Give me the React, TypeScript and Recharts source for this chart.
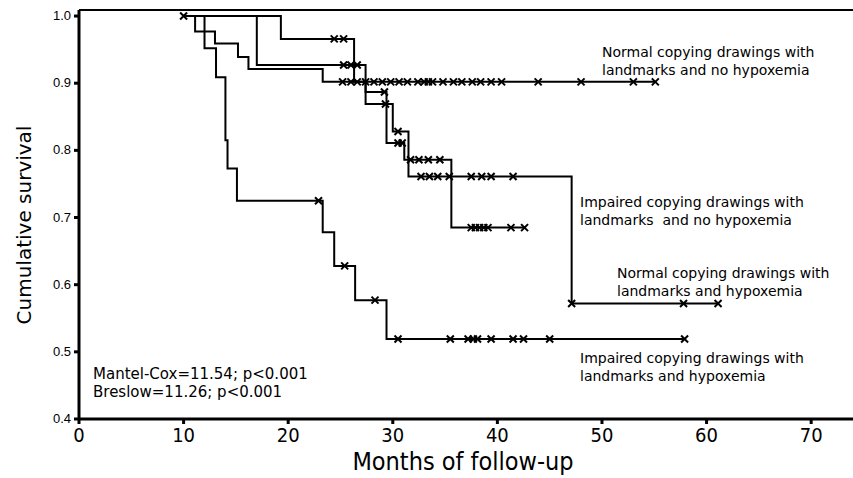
import React from 'react';
import { ComposedChart, Line, Scatter, XAxis, YAxis, ReferenceLine } from 'recharts';

// Kaplan-Meier steps: month of each drop and the survival level after it
const nnTimes = [10, 11.1, 13.0, 15.2, 16.2, 23.3, 55.1];
const nnSurv = [1.0, 0.977, 0.959, 0.939, 0.921, 0.902, 0.902];
const nnCensored = [10, 25.2, 26.0, 26.6, 27.4, 28.2, 29.0, 29.8, 30.6, 31.4, 32.4, 33.0, 33.4, 33.8, 34.8, 35.8, 36.6, 37.6, 38.4, 39.4, 40.4, 43.9, 48.0, 53.0, 55.1];

const inTimes = [10, 19.3, 26.3, 27.4, 29.4, 31.1, 35.6, 42.6];
const inSurv = [1.0, 0.966, 0.902, 0.887, 0.811, 0.786, 0.685, 0.685];
const inCensored = [24.4, 25.3, 29.2, 30.5, 30.9, 31.7, 32.5, 33.4, 34.5, 37.5, 37.9, 38.3, 38.7, 39.1, 41.3, 42.6];

const nhTimes = [10, 17.0, 27.4, 30.0, 31.5, 47.1, 61.1];
const nhSurv = [1.0, 0.927, 0.869, 0.828, 0.761, 0.572, 0.572];
const nhCensored = [25.3, 26.0, 26.6, 29.3, 30.5, 32.7, 33.5, 34.3, 35.4, 37.5, 38.5, 39.4, 41.5, 47.1, 57.8, 61.1];

const ihTimes = [10, 12.0, 13.1, 14.0, 14.2, 15.1, 23.3, 24.4, 26.4, 29.4, 57.9];
const ihSurv = [1.0, 0.952, 0.909, 0.815, 0.773, 0.725, 0.678, 0.628, 0.577, 0.519, 0.519];
const ihCensored = [22.9, 25.4, 28.3, 30.5, 35.5, 37.2, 37.7, 38.1, 39.4, 41.5, 42.5, 45.0, 57.9];

const xTicks = [0, 10, 20, 30, 40, 50, 60, 70];
const yTicks = [0.4, 0.5, 0.6, 0.7, 0.8, 0.9, 1.0];
const yTop = 1.009;

const steps = (times: number[], surv: number[]) => times.map((t, i) => ({ t, s: surv[i] }));

const levelAt = (times: number[], surv: number[], t: number) => {
  let s = surv[0];
  times.forEach((tt, i) => {
    if (tt <= t) s = surv[i];
  });
  return s;
};

const censorPts = (times: number[], surv: number[], cens: number[]) =>
  cens.map((t) => ({ t, s: levelAt(times, surv, t) }));

const curves = [
  { key: 'nn', times: nnTimes, surv: nnSurv, cens: nnCensored },
  { key: 'in', times: inTimes, surv: inSurv, cens: inCensored },
  { key: 'nh', times: nhTimes, surv: nhSurv, cens: nhCensored },
  { key: 'ih', times: ihTimes, surv: ihSurv, cens: ihCensored },
];

const Cross = (props: any) => {
  const { cx, cy } = props;
  return (
    <path
      d={`M${cx - 3.5},${cy - 3.5}L${cx + 3.5},${cy + 3.5}M${cx - 3.5},${cy + 3.5}L${cx + 3.5},${cy - 3.5}`}
      stroke="#000"
      strokeWidth={2}
    />
  );
};

const narrow = "'Liberation Sans Narrow', 'DejaVu Sans Condensed', 'Liberation Sans', Arial, sans-serif";
const verdana = "'DejaVu Sans', Verdana, sans-serif";

const XTick = ({ x, y, payload }: any) => (
  <text x={x} y={y + 16} textAnchor="middle" fontFamily={narrow} fontSize={20} fill="#000">
    {payload.value}
  </text>
);

const YTick = ({ x, y, payload }: any) => (
  <text x={x - 1} y={y + 4} textAnchor="end" fontFamily="'Liberation Sans', Arial, sans-serif" fontSize={13} fill="#000">
    {payload.value.toFixed(1)}
  </text>
);

const notes = [
  { x: 602, y: 57, lines: ['Normal copying drawings with', 'landmarks and no hypoxemia'] },
  { x: 580, y: 207, lines: ['Impaired copying drawings with', 'landmarks\u00a0 and no hypoxemia'] },
  { x: 617, y: 278, lines: ['Normal copying drawings with', 'landmarks and hypoxemia'] },
  { x: 580, y: 363, lines: ['Impaired copying drawings with', 'landmarks and hypoxemia'] },
  { x: 93, y: 379, lines: ['Mantel-Cox=11.54; p<0.001', 'Breslow=11.26; p<0.001'], size: 15 },
];

export default function App() {
  return (
    <div style={{ position: 'absolute', left: 0, top: 0, width: 853, height: 478, background: '#fff' }}>
      <ComposedChart width={853} height={478} margin={{ top: 10, right: 0, left: 0, bottom: 0 }}>
        <XAxis
          dataKey="t"
          type="number"
          domain={[0, 74]}
          ticks={xTicks}
          allowDataOverflow
          height={59}
          axisLine={{ stroke: '#000', strokeWidth: 3 }}
          tickLine={{ stroke: '#000', strokeWidth: 3 }}
          tickSize={5}
          tick={<XTick />}
        />
        <YAxis
          type="number"
          domain={[0.4, yTop]}
          ticks={yTicks}
          allowDataOverflow
          width={79}
          axisLine={{ stroke: '#000', strokeWidth: 3 }}
          tickLine={{ stroke: '#000', strokeWidth: 3 }}
          tickSize={5}
          tick={<YTick />}
        />
        <ReferenceLine y={yTop} stroke="#000" strokeWidth={2} />
        {curves.map((c) => (
          <Line
            key={c.key}
            data={steps(c.times, c.surv)}
            dataKey="s"
            type="stepAfter"
            stroke="#000"
            strokeWidth={2}
            dot={false}
            isAnimationActive={false}
          />
        ))}
        {curves.map((c) => (
          <Scatter
            key={c.key + '-c'}
            data={censorPts(c.times, c.surv, c.cens)}
            dataKey="s"
            shape={<Cross />}
            isAnimationActive={false}
          />
        ))}
      </ComposedChart>
      <svg width={853} height={478} style={{ position: 'absolute', left: 0, top: 0, pointerEvents: 'none' }}>
        <text
          transform="translate(31,225) rotate(-90)"
          textAnchor="middle"
          fontFamily={verdana}
          fontSize={20}
          fill="#000"
        >
          Cumulative survival
        </text>
        <text x={463} y={470} textAnchor="middle" fontFamily={narrow} fontSize={25} fill="#000">
          Months of follow-up
        </text>
        {notes.map((n, i) => (
          <text key={i} x={n.x} y={n.y} fontFamily={verdana} fontSize={n.size ?? 14} fill="#000">
            {n.lines.map((l, j) => (
              <tspan key={j} x={n.x} dy={j === 0 ? 0 : 17.5}>
                {l}
              </tspan>
            ))}
          </text>
        ))}
      </svg>
    </div>
  );
}
